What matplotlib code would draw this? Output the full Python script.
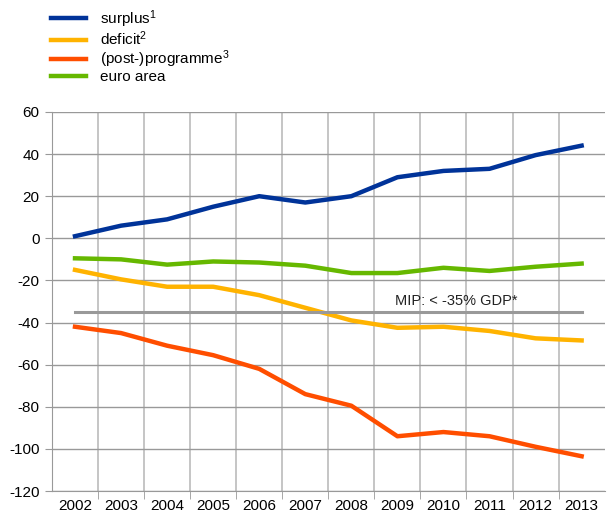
import matplotlib.pyplot as plt
import numpy as np
from matplotlib.ticker import FixedLocator

plt.rcParams['font.family'] = ['Liberation Sans', 'DejaVu Sans']
plt.rcParams['axes.unicode_minus'] = False
plt.rcParams['mathtext.fontset'] = 'custom'
plt.rcParams['mathtext.rm'] = 'Liberation Sans'
plt.rcParams['mathtext.default'] = 'rm'

# data
years = ['2002', '2003', '2004', '2005', '2006', '2007',
         '2008', '2009', '2010', '2011', '2012', '2013']
surplus = [1, 6, 9, 15, 20, 17, 20, 29, 32, 33, 39.5, 44]
deficit = [-15, -19.5, -23, -23, -27, -33, -39, -42.5, -42, -44, -47.5, -48.5]
programme = [-42, -45, -51, -55.5, -62, -74, -79.5, -94, -92, -94, -99, -103.5]
euro_area = [-9.5, -10, -12.5, -11, -11.5, -13, -16.5, -16.5, -14, -15.5, -13.5, -12]
mip_threshold = -35

x = np.arange(len(years))

fig = plt.figure(figsize=(6.08, 5.15), dpi=100)
ax = fig.add_axes([0.0855, 0.0466, 0.909, 0.736])

l1, = ax.plot(x, surplus, color='#003399', lw=3.2, label='surplus$^{1}$')
l2, = ax.plot(x, deficit, color='#FFB300', lw=3.2, label='deficit$^{2}$')
l3, = ax.plot(x, programme, color='#FF4E00', lw=3.2, label='(post-)programme$^{3}$')
l4, = ax.plot(x, euro_area, color='#66B800', lw=3.2, label='euro area')
ax.plot([x[0], x[-1]], [mip_threshold, mip_threshold], color='#999999', lw=2.2)
ax.text(6.95, mip_threshold + 3.3, 'MIP: < -35% GDP*', fontsize=10.5, color='#222222')

ax.set_xlim(-0.5, 11.5)
ax.set_ylim(-120, 60)
ax.set_yticks(np.arange(-120, 61, 20))
ax.set_xticks(x)
ax.set_xticklabels(years)
ax.xaxis.set_minor_locator(FixedLocator(np.arange(0.5, 11.5, 1)))
ax.tick_params(axis='x', which='major', length=0, labelsize=11, pad=6)
ax.tick_params(axis='x', which='minor', length=6, color='#999999')
ax.tick_params(axis='y', length=5, color='#999999', labelsize=11, pad=4)
ax.grid(True, axis='y', color='#999999', lw=1)
ax.grid(True, axis='x', which='minor', color='#BBBBBB', lw=1.2)
ax.set_axisbelow(True)
for s in ax.spines.values():
    s.set_color('#999999')
ax.spines['top'].set_visible(False)
ax.spines['right'].set_visible(False)

fig.legend(handles=[l1, l2, l3, l4], loc='upper left', bbox_to_anchor=(0.066, 1.005),
           frameon=False, fontsize=11, handlelength=2.3, labelspacing=0.0,
           handletextpad=0.9, borderaxespad=0.3)

plt.savefig('out.png', dpi=100)
